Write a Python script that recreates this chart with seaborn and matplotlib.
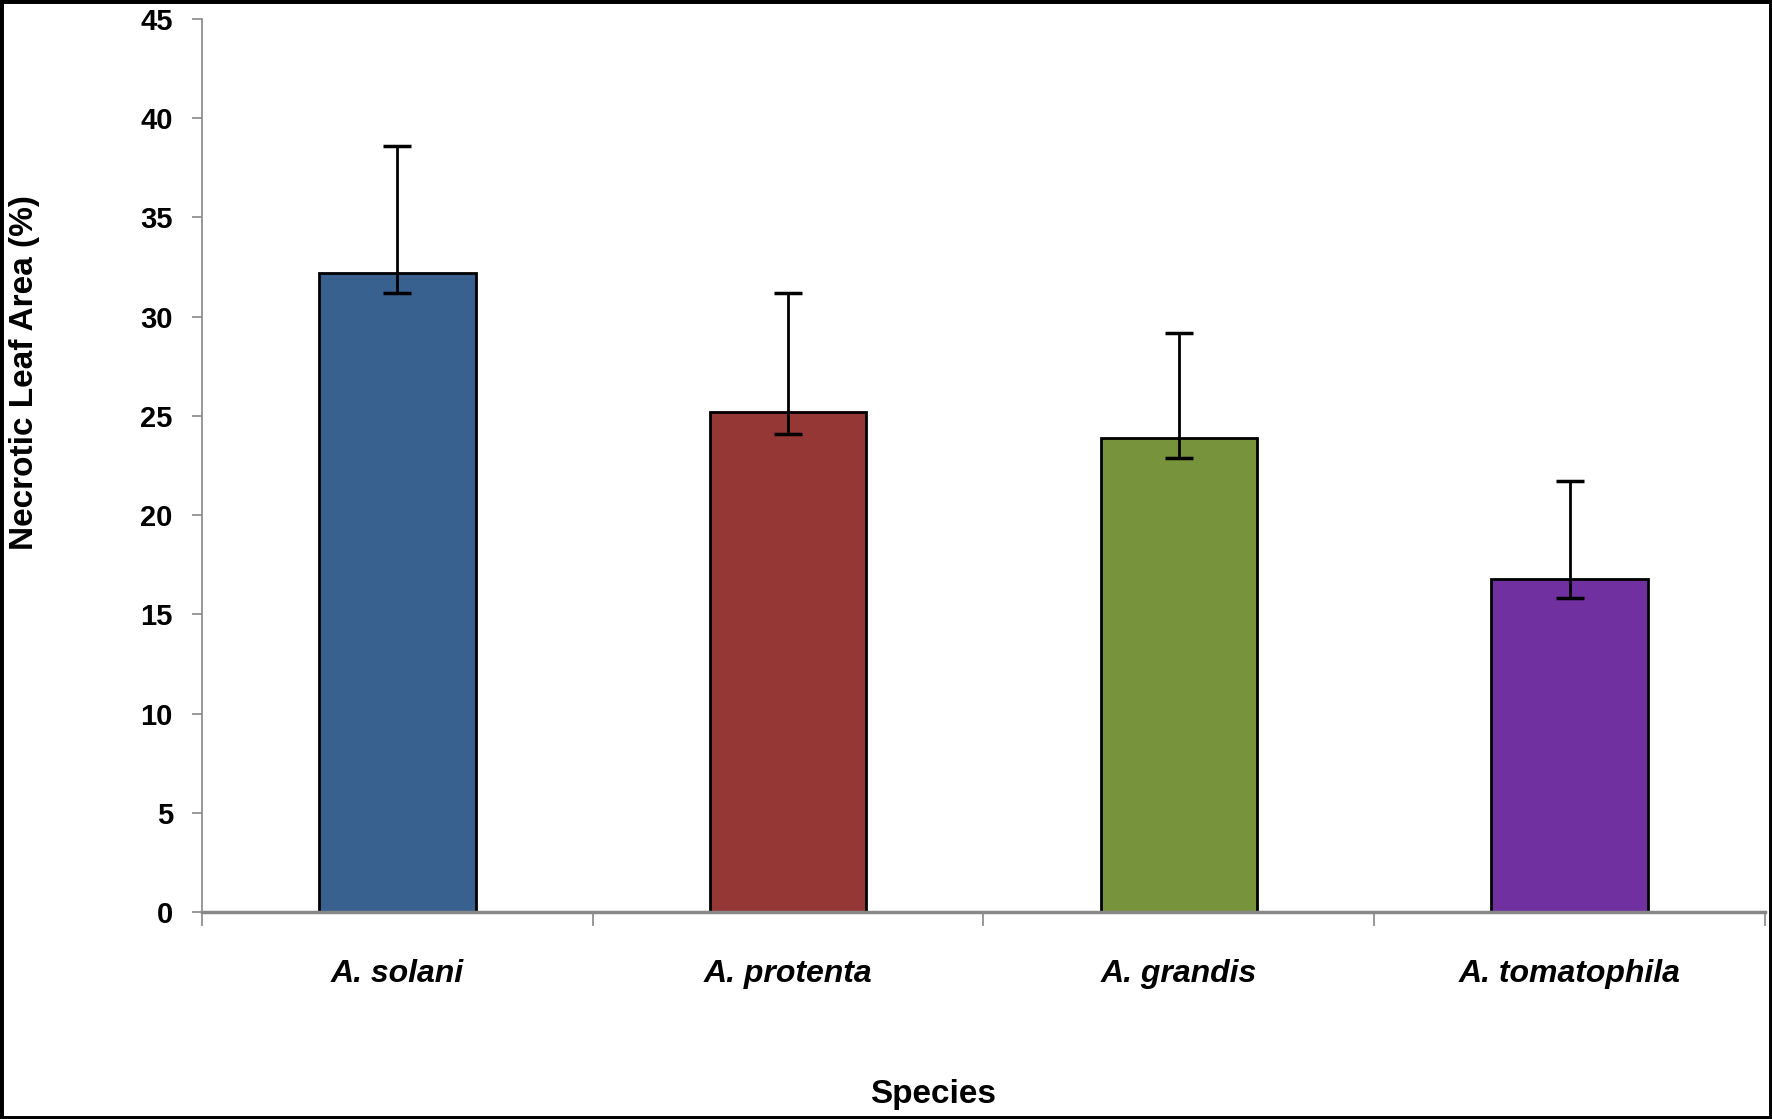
import matplotlib
matplotlib.use("Agg")
import matplotlib.pyplot as plt
import seaborn as sns
import pandas as pd
from matplotlib.patches import Rectangle

# data
species = ["A. solani", "A. protenta", "A. grandis", "A. tomatophila"]
necrotic_area = [32.2, 25.2, 23.9, 16.8]
err_upper = [6.4, 6.0, 5.3, 4.9]
err_lower = [1.0, 1.1, 1.0, 1.0]
bar_colors = ["#386190", "#953735", "#77933C", "#7030A0"]

sns.set_style("white")
FONT = ["Liberation Sans Narrow", "Liberation Sans", "DejaVu Sans"]
plt.rcParams["font.family"] = FONT
plt.rcParams["text.color"] = "black"
plt.rcParams["xtick.color"] = "#888888"
plt.rcParams["ytick.color"] = "#888888"
plt.rcParams["xtick.labelcolor"] = "black"
plt.rcParams["ytick.labelcolor"] = "black"

df = pd.DataFrame({"species": species, "area": necrotic_area})

fig = plt.figure(figsize=(17.72, 11.19), dpi=100)
ax = fig.add_axes([0.114, 0.185, 0.882, 0.798])

sns.barplot(data=df, x="species", y="area", hue="species", order=species,
            palette=bar_colors, saturation=1, width=0.40, edgecolor="black",
            linewidth=2, legend=False, ax=ax)

xpos = range(len(species))
ax.errorbar(xpos, necrotic_area, yerr=[err_lower, err_upper], fmt="none",
            ecolor="black", elinewidth=2, capsize=10, capthick=2.5, zorder=5)

ax.set_xlim(-0.5, len(species) - 0.5)
ax.set_ylim(0, 45)
ax.set_yticks(range(0, 46, 5))
ax.set_yticklabels([str(v) for v in range(0, 46, 5)], fontsize=21, fontweight="bold")

# category labels at centres, boundary ticks as minor ticks
ax.set_xticks(list(xpos))
ax.set_xticklabels(species, fontsize=23, fontweight="bold", fontstyle="italic")
ax.set_xticks([i - 0.5 for i in range(len(species) + 1)], minor=True)
ax.tick_params(axis="x", which="major", bottom=True, length=0, pad=34)
ax.tick_params(axis="x", which="minor", bottom=True, length=10, width=1.2,
               color="#888888", direction="out")
ax.tick_params(axis="y", left=True, length=7, width=1.2, color="#888888",
               direction="out", pad=14)

for s in ["top", "right"]:
    ax.spines[s].set_visible(False)
ax.spines["left"].set_color("#888888")
ax.spines["left"].set_linewidth(1.2)
ax.spines["bottom"].set_color("#888888")
ax.spines["bottom"].set_linewidth(2.5)
ax.set_xlabel("")
ax.set_ylabel("")

fig.text(0.5266, 0.022, "Species", ha="center", va="center", fontsize=24,
         fontweight="bold", color="black")
fig.text(0.014, 0.667, "Necrotic Leaf Area (%)", ha="center", va="center",
         rotation=90, fontsize=24, fontweight="bold", color="black")

# black frame round the whole picture
fig.patches.append(Rectangle((0, 0), 1, 1, transform=fig.transFigure, fill=False,
                             edgecolor="black", linewidth=5, zorder=10))

fig.savefig("out.png", dpi=100)
